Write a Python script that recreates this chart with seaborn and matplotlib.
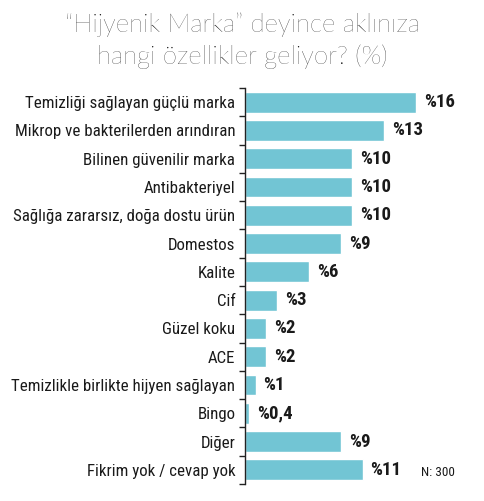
import matplotlib
matplotlib.use("Agg")
import matplotlib.pyplot as plt
import seaborn as sns
import pandas as pd
import numpy as np
from matplotlib import font_manager

categories = [
    "Temizliği sağlayan güçlü marka",
    "Mikrop ve bakterilerden arındıran",
    "Bilinen güvenilir marka",
    "Antibakteriyel",
    "Sağlığa zararsız, doğa dostu ürün",
    "Domestos",
    "Kalite",
    "Cif",
    "Güzel koku",
    "ACE",
    "Temizlikle birlikte hijyen sağlayan",
    "Bingo",
    "Diğer",
    "Fikrim yok / cevap yok",
]
values = [16, 13, 10, 10, 10, 9, 6, 3, 2, 2, 1, 0.4, 9, 11]
value_labels = ["%16", "%13", "%10", "%10", "%10", "%9", "%6", "%3", "%2", "%2", "%1", "%0,4", "%9", "%11"]
title_text = "“Hijyenik Marka” deyince aklınıza\nhangi özellikler geliyor? (%)"
note_text = "N: 300"

sns.set_theme(style="white")

names = {f.name for f in font_manager.fontManager.ttflist}
cond_family = None
cond_stretch = "normal"
for cand in ["Roboto Condensed", "Liberation Sans Narrow", "Open Sans Condensed"]:
    if cand in names:
        cond_family = cand
        break
if cond_family is None:
    cond_family = "DejaVu Sans"
    cond_stretch = "condensed"
title_family = "Lato" if "Lato" in names else "DejaVu Sans"

plt.rcParams["font.family"] = [cond_family, "DejaVu Sans"]

df = pd.DataFrame({"cat": categories, "val": values})

fig = plt.figure(figsize=(4.85, 5.01), dpi=100)
ax = fig.add_axes([245 / 485, 17 / 501, 200 / 485, 396 / 501])
bar_color = "#72C5D4"
sns.barplot(data=df, x="val", y="cat", orient="h", color=bar_color, width=0.74,
            saturation=1, ax=ax)

ax.set_xlim(0, 200 / 10.7)
n = len(categories)
ax.set_ylim(n - 0.5, -0.5)
ax.set_xlabel("")
ax.set_ylabel("")
ax.set_xticks([])
for s in ["top", "right", "bottom"]:
    ax.spines[s].set_visible(False)
ax.spines["left"].set_color("#222222")
ax.spines["left"].set_linewidth(1.0)

ax.set_yticks(range(n))
ax.set_yticklabels(categories, fontsize=12.2, color="#1a1a1a", fontstretch=cond_stretch)
ax.tick_params(axis="y", which="major", length=0, pad=7)
ax.set_yticks(np.arange(-0.5, n, 1.0), minor=True)
ax.tick_params(axis="y", which="minor", length=4, width=1.0, color="#222222", left=True)

for i, (v, lab) in enumerate(zip(values, value_labels)):
    ax.annotate(lab, xy=(v, i), xytext=(5.5, 0), textcoords="offset points",
                ha="left", va="center", fontsize=13.5, fontweight="bold",
                color="#1a1a1a", fontstretch=cond_stretch)

fig.text(0.5, 1 - 12 / 501, title_text, ha="center", va="top", fontsize=18.5,
         family=[title_family, "DejaVu Sans"], fontweight="light", color="#0a0a0a",
         linespacing=1.38)

fig.text(421 / 485, 1 - 472 / 501, note_text, ha="left", va="center", fontsize=9.5,
         color="#1a1a1a", fontstretch=cond_stretch)

fig.savefig("out.png", dpi=100)
